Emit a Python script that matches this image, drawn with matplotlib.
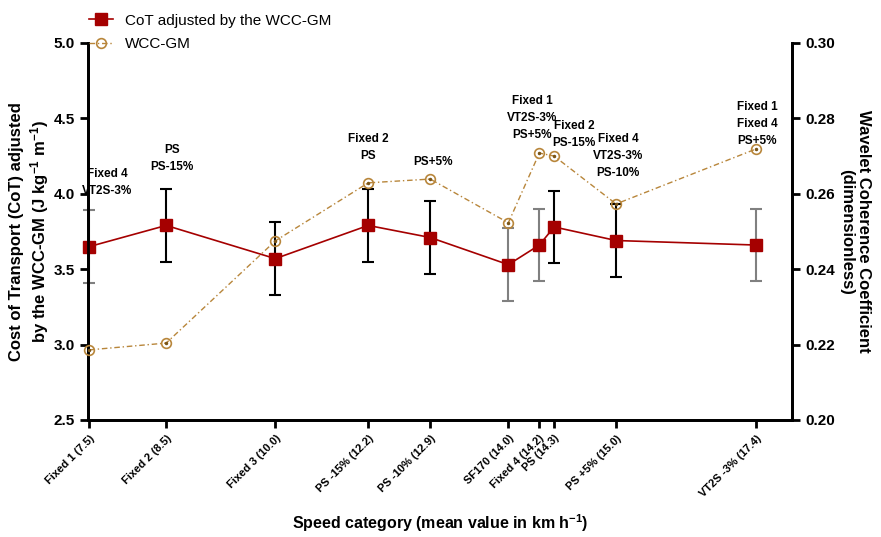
import numpy as np
import matplotlib
matplotlib.use("Agg")
import matplotlib.pyplot as plt

plt.rcParams['font.family'] = ['Liberation Sans', 'DejaVu Sans']
plt.rcParams['mathtext.fontset'] = 'custom'
plt.rcParams['mathtext.rm'] = 'Liberation Sans:bold'
plt.rcParams['mathtext.default'] = 'rm'

# speed categories (positions along the axis as drawn in the original)
categories = ['Fixed 1 (7.5)', 'Fixed 2 (8.5)', 'Fixed 3 (10.0)', 'PS -15% (12.2)',
              'PS -10% (12.9)', 'SF170 (14.0)', 'Fixed 4 (14.2)', 'PS (14.3)',
              'PS +5% (15.0)', 'VT2S -3% (17.4)']
x_pos = [0.2, 11.1, 26.6, 39.8, 48.6, 59.7, 64.1, 66.2, 75.0, 94.9]

cot = [3.65, 3.79, 3.57, 3.79, 3.71, 3.53, 3.66, 3.78, 3.69, 3.66]
cot_err = [0.24, 0.24, 0.24, 0.24, 0.24, 0.24, 0.24, 0.24, 0.24, 0.24]
err_gray = [True, False, False, False, False, True, True, False, False, True]

wcc = [0.2186, 0.2204, 0.2475, 0.2629, 0.2639, 0.2523, 0.2708, 0.2700, 0.2573, 0.2719]

notes = ['Fixed 4\nVT2S-3%', 'PS\nPS-15%', '', 'Fixed 2\nPS', 'PS+5%', '',
         'Fixed 1\nVT2S-3%\nPS+5%', 'Fixed 2\nPS-15%', 'Fixed 4\nVT2S-3%\nPS-10%',
         'Fixed 1\nFixed 4\nPS+5%']
note_x = [2.7, 11.9, 0, 39.8, 49.0, 0, 63.1, 69.0, 75.3, 95.0]
note_y = [3.98, 4.14, 0, 4.21, 4.17, 0, 4.35, 4.30, 4.10, 4.31]

red = '#A50000'
gold = '#B8863B'

fig = plt.figure(figsize=(8.81, 5.37), dpi=100)
ax = fig.add_axes([0.0999, 0.2179, 0.7992, 0.7021])
ax2 = ax.twinx()

for i in range(len(x_pos)):
    c = '#808080' if err_gray[i] else 'black'
    eb = ax.errorbar(x_pos[i], cot[i], yerr=cot_err[i], fmt='none', ecolor=c,
                     elinewidth=1.5, capsize=4, capthick=1.5, zorder=2)
    for art in eb.lines[1] + eb.lines[2]:
        art.set_clip_on(False)
l1, = ax.plot(x_pos, cot, color=red, lw=1.2, marker='s', ms=8.5,
              mfc=red, mec=red, zorder=3, clip_on=False,
              label='CoT adjusted by the WCC-GM')

l2, = ax2.plot(x_pos, wcc, color=gold, lw=1.0, ls=(0, (4, 2, 1, 2)), marker='o',
               ms=7, mfc='none', mec=gold, mew=1.2, label='WCC-GM', zorder=3,
               clip_on=False)
ax2.plot(x_pos, wcc, ls='none', marker='.', ms=3, color='#7a5518', zorder=4,
         clip_on=False)

for i in range(len(x_pos)):
    if notes[i]:
        ax.text(note_x[i], note_y[i], notes[i], ha='center', va='bottom',
                fontsize=8.5, fontweight='bold', linespacing=1.55)

ax.set_xlim(0, 100)
ax.set_ylim(2.5, 5.0)
ax2.set_ylim(0.20, 0.30)
ax.set_yticks([2.5, 3.0, 3.5, 4.0, 4.5, 5.0])
ax.set_yticklabels(['2.5', '3.0', '3.5', '4.0', '4.5', '5.0'])
ax2.set_yticks([0.20, 0.22, 0.24, 0.26, 0.28, 0.30])
ax2.set_yticklabels(['0.20', '0.22', '0.24', '0.26', '0.28', '0.30'])
ax.set_xticks(x_pos)
ax.set_xticklabels(categories, rotation=45, ha='right', rotation_mode='anchor',
                   fontsize=8, fontweight='bold')

for a in (ax, ax2):
    a.spines['top'].set_visible(False)
    for s in ('left', 'right', 'bottom'):
        a.spines[s].set_linewidth(2)
    a.tick_params(width=2, length=6, direction='out')
ax.tick_params(axis='y', labelsize=11)
ax2.tick_params(axis='y', labelsize=11)
for lab in ax.get_yticklabels() + ax2.get_yticklabels():
    lab.set_fontweight('bold')

ax.set_ylabel('Cost of Transport (CoT) adjusted\nby the WCC-GM (J kg$^{-1}$ m$^{-1}$)',
              fontsize=12, fontweight='bold', labelpad=2)
ax2.set_ylabel('Wavelet Coherence Coefficient\n(dimensionless)', fontsize=12,
               fontweight='bold', rotation=270, labelpad=26)
ax.set_xlabel('Speed category (mean value in km h$^{-1}$)', fontsize=11.5,
              fontweight='bold', labelpad=10)

fig.legend(handles=[l1, l2], loc='upper left', bbox_to_anchor=(0.085, 1.0),
           frameon=False, fontsize=11, handlelength=1.6, handletextpad=0.8,
           labelspacing=0.6)

fig.savefig('out.png', dpi=100)
